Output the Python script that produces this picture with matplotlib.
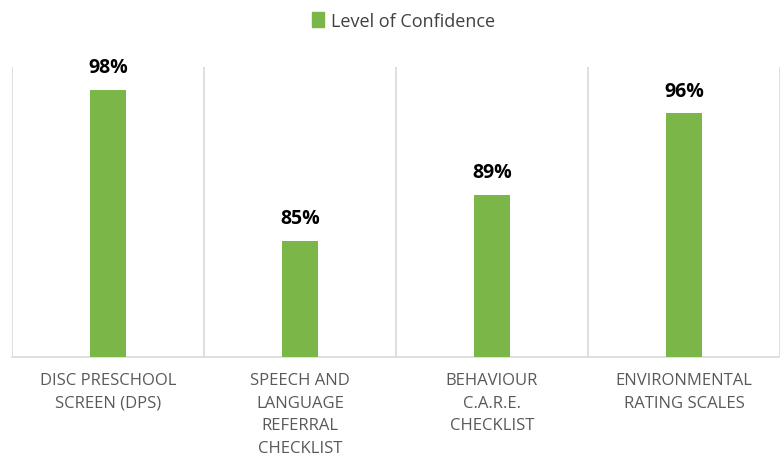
import matplotlib
matplotlib.use("Agg")
import matplotlib.pyplot as plt
from matplotlib.patches import Patch
import numpy as np

categories = ["DISC PRESCHOOL\nSCREEN (DPS)", "SPEECH AND\nLANGUAGE\nREFERRAL\nCHECKLIST",
              "BEHAVIOUR\nC.A.R.E.\nCHECKLIST", "ENVIRONMENTAL\nRATING SCALES"]
values = [0.98, 0.85, 0.89, 0.96]
series_name = "Level of Confidence"

green = "#7AB648"
grid = "#D9D9D9"
font = ["Open Sans", "DejaVu Sans"]

fig = plt.figure(figsize=(7.8, 4.6), dpi=100)
ax = fig.add_axes([12/780, (460-358)/460, 1 - 12/780, (358-68)/460])

x = np.arange(len(categories))
ax.bar(x, values, width=0.19, color=green, zorder=3)
ax.set_xlim(-0.5, len(categories) - 0.5)
ax.set_ylim(0.75, 1.0)

for b in np.arange(-0.5, len(categories), 1.0):
    ax.axvline(b, color=grid, lw=1.2, zorder=1)

for xi, v in zip(x, values):
    ax.text(xi, v + 0.011, f"{v*100:.0f}%", ha="center", va="bottom",
            fontsize=14, fontweight="bold", color="black", family=font)

ax.set_xticks(x)
ax.set_xticklabels(categories, family=font, fontsize=12, color="#595959",
                   linespacing=1.55, va="top")
ax.tick_params(axis="x", length=0, pad=11)
ax.set_yticks([])
for s in ["top", "left", "right"]:
    ax.spines[s].set_visible(False)
ax.spines["bottom"].set_color(grid)
ax.spines["bottom"].set_linewidth(1.2)

fig.legend(handles=[Patch(color=green, label=series_name)], loc="center",
           bbox_to_anchor=(0.518, 0.952), frameon=False,
           prop={"family": font, "size": 13}, handlelength=0.65, handleheight=0.9,
           handletextpad=0.4, labelcolor="#404040")

fig.savefig("out.png", dpi=100)
